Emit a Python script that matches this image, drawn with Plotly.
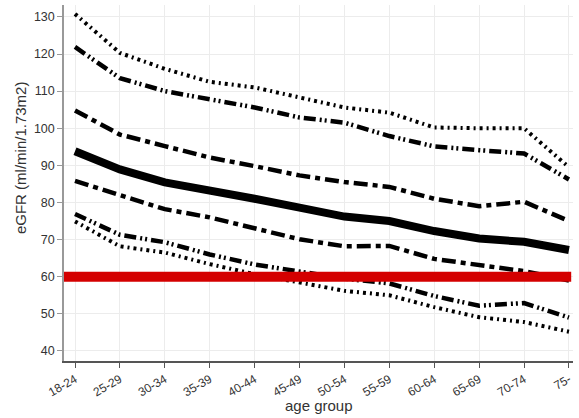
import plotly.graph_objects as go

age_groups = ["18-24", "25-29", "30-34", "35-39", "40-44", "45-49", "50-54",
              "55-59", "60-64", "65-69", "70-74", "75-"]

p97 = [130.8, 120.3, 116.0, 112.5, 111.0, 108.3, 105.6, 104.2, 100.2, 100.0, 100.0, 89.5]
p95 = [121.9, 113.5, 110.0, 107.8, 105.6, 102.9, 101.5, 97.9, 95.1, 94.1, 93.2, 86.2]
p80 = [104.8, 98.3, 95.2, 92.1, 89.8, 87.3, 85.5, 84.2, 81.0, 79.0, 80.2, 75.0]
p50 = [93.8, 88.9, 85.4, 83.4, 81.0, 78.6, 76.2, 75.0, 72.3, 70.3, 69.4, 67.2]
p20 = [85.8, 82.0, 78.2, 76.0, 73.0, 70.1, 68.2, 68.3, 64.8, 63.0, 61.5, 59.0]
p5 = [76.9, 71.3, 69.3, 66.0, 63.3, 61.5, 59.5, 58.2, 54.8, 52.2, 52.9, 49.0]
p3 = [74.9, 68.2, 66.5, 63.4, 60.7, 58.5, 56.2, 55.0, 51.8, 49.1, 47.8, 45.2]

ckd_threshold = 60

xs = list(range(len(age_groups)))

series = [
    (p97, 4, "3px,4px,2px,4px"),
    (p95, 4.5, "12px,4px,2px,3px,2px,4px"),
    (p80, 4.5, "14px,5px,5px,5px"),
    (p50, 8, "solid"),
    (p20, 4.5, "14px,5px,5px,5px"),
    (p5, 4.5, "12px,4px,2px,3px,2px,4px"),
    (p3, 4, "3px,4px,2px,4px"),
]

fig = go.Figure()
for vals, w, dash in series:
    fig.add_trace(go.Scatter(x=xs, y=vals, mode="lines",
                             line=dict(color="black", width=w, dash=dash),
                             showlegend=False, hoverinfo="skip"))

fig.add_shape(type="line", xref="x", yref="y", x0=-0.245, x1=11.05,
              y0=ckd_threshold, y1=ckd_threshold,
              line=dict(color="#d40000", width=10), layer="above")

fig.update_layout(
    width=579, height=418,
    margin=dict(l=64, r=6, t=5, b=57),
    paper_bgcolor="white", plot_bgcolor="white",
    font=dict(family="Liberation Sans, Arial, sans-serif", color="#333333", size=12),
    showlegend=False,
    annotations=[
        dict(text="eGFR (ml/min/1.73m2)", xref="paper", yref="paper",
             x=-0.0864, y=0.57, textangle=-90, showarrow=False,
             font=dict(size=15, color="#333333"), xanchor="center", yanchor="middle"),
        dict(text="age group", xref="paper", yref="paper",
             x=0.5, y=-0.125, showarrow=False,
             font=dict(size=15, color="#333333"), xanchor="center", yanchor="middle"),
    ],
)
fig.update_xaxes(
    range=[-0.245, 11.09], tickmode="array", tickvals=xs, ticktext=age_groups,
    tickangle=-30, showgrid=True, gridcolor="#ececec", gridwidth=1,
    showline=True, linecolor="#555555", linewidth=1.5,
    ticks="outside", ticklen=5, tickcolor="#555555", automargin=False,
    zeroline=False, tickfont=dict(size=12),
)
fig.update_yaxes(
    range=[37.3, 133.2], tickvals=[40, 50, 60, 70, 80, 90, 100, 110, 120, 130],
    showgrid=True, gridcolor="#ececec", gridwidth=1,
    showline=True, linecolor="#999999", linewidth=1.5,
    ticks="outside", ticklen=5, tickcolor="#999999", automargin=False,
    zeroline=False, tickfont=dict(size=12.5),
)

fig.write_html("out.html")
